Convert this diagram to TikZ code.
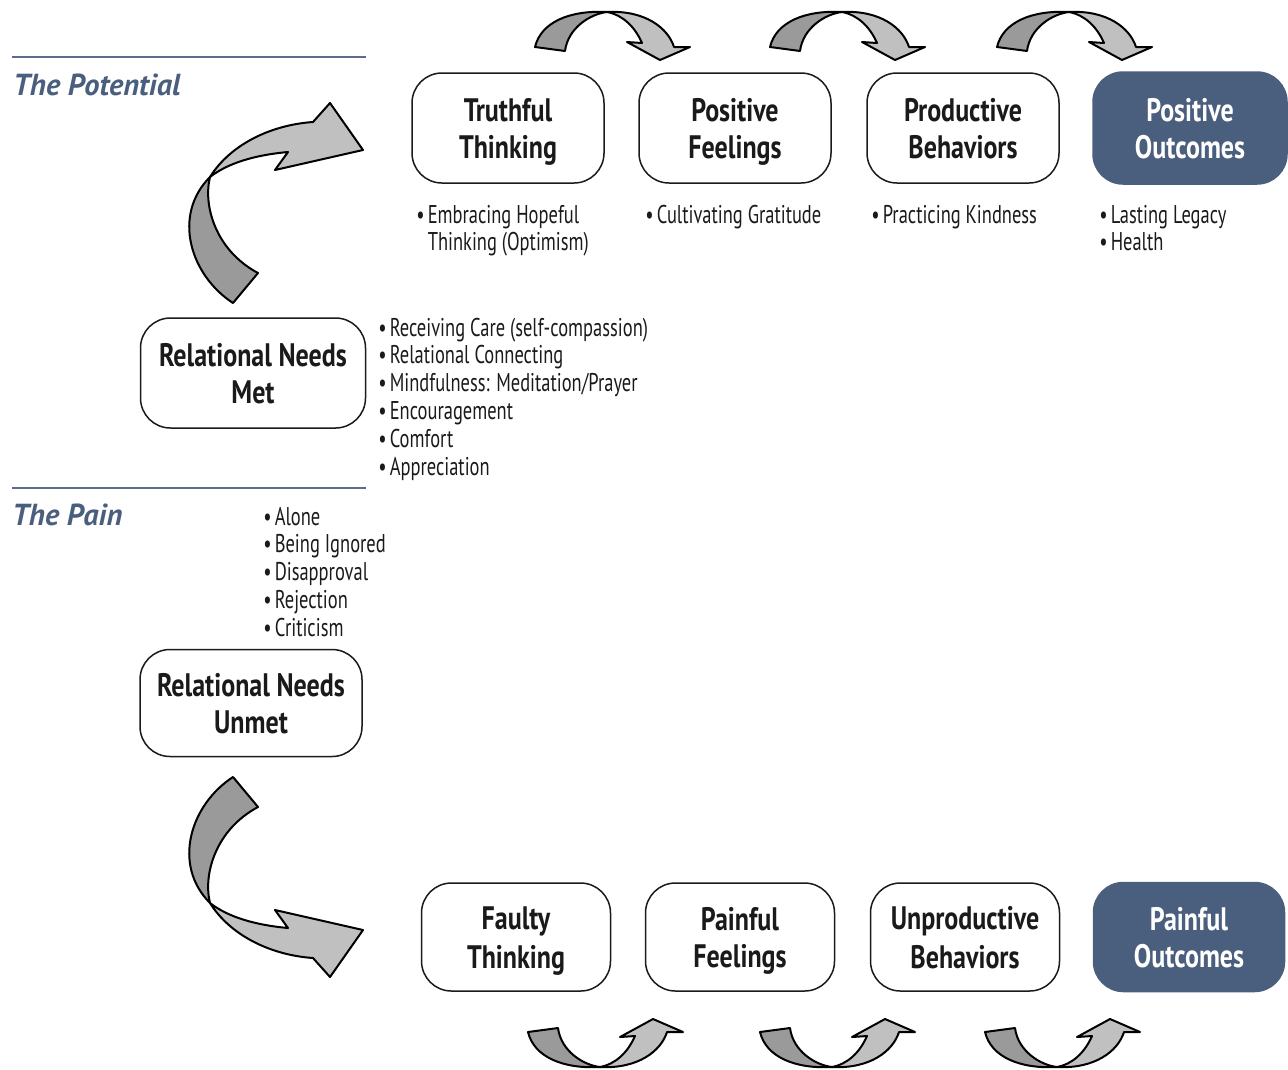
\documentclass[tikz,border=0pt]{standalone}
\usepackage{fontspec}
\setmainfont{PT Sans}[FakeStretch=0.8]
\newfontfamily\listfont{PT Sans}[FakeStretch=0.72]
\newfontfamily\titlefont{PT Sans}
\usetikzlibrary{positioning}

\definecolor{slate}{HTML}{4A5E7E}
\definecolor{rule}{HTML}{5A6D8C}
\definecolor{ink}{HTML}{1A1A1A}
\definecolor{arrowdark}{HTML}{9A9A9A}
\definecolor{arrowlight}{HTML}{C0C0C0}

\newcommand{\bul}{\textbullet\hspace{0.12em}}
\newcommand{\hang}{\hphantom{\bul}}
\newcommand{\lstrut}{\rule[-3.6pt]{0pt}{21pt}}
\newcommand{\twolines}[2]{\lstrut#1\\\lstrut#2}

\tikzset{
  arrow dark/.style={fill=arrowdark, draw=black, line width=0.4mm, line join=round},
  arrow light/.style={fill=arrowlight, draw=black, line width=0.4mm, line join=round},
  % small hop arrow between two boxes
  hop/.pic={
    \filldraw[arrow dark] (0,47) .. controls (6,22) and (35,10) .. (72,12)
      .. controls (55,14) and (33,28) .. (30,51) -- cycle;
    \filldraw[arrow light] (72,12) .. controls (110,10) and (133,28) .. (139,47)
      -- (155,47) -- (125,60) -- (92,42) -- (107,43)
      .. controls (100,27) and (88,15) .. (72,12) -- cycle;
  },
  % big bent arrow on the left
  bend/.pic={
    \filldraw[arrow dark] (53,203) .. controls (10,175) and (-8,115) .. (30,77)
      .. controls (23,105) and (35,150) .. (78,173) -- cycle;
    \filldraw[arrow light] (30,77) .. controls (50,45) and (90,25) .. (133,22)
      -- (150,3) -- (183,50) -- (95,70) -- (108,52)
      .. controls (75,55) and (48,63) .. (30,77) -- cycle;
  }
}

\begin{document}
\begin{tikzpicture}[
  x=0.2mm, y=-0.2mm,
  stage/.style={draw=ink, line width=0.3mm, rounded corners=6mm,
    minimum width=38.4mm, minimum height=22mm, inner sep=0pt,
    align=center, text=ink, font=\bfseries\fontsize{18.5}{21}\selectfont},
  outcome/.style={stage, fill=slate, draw=slate, text=white},
  need/.style={stage, minimum width=45mm},
  list/.style={anchor=base west, inner sep=0pt, text=ink,
    font=\listfont\fontsize{14.6}{15.9}\selectfont},
  heading/.style={anchor=base west, inner sep=0pt, text=slate,
    font=\titlefont\bfseries\itshape\fontsize{17.3}{20}\selectfont},
  divider/.style={draw=rule, line width=0.25mm}
]
  \useasboundingbox (0,0) rectangle (1288,1069);

  % Section headings and rules
  \draw[divider] (12,57) -- (366,57);
  \draw[divider] (12,488) -- (366,488);
  \node[heading] (potential) at (13,95) {The Potential};
  \node[heading] (pain) at (12,525) {The Pain};

  % Upper row
  \node[stage] (truth) at (508,128) {\twolines{Truthful}{Thinking}};
  \node[stage] (posfeel) at (735,128) {\twolines{Positive}{Feelings}};
  \node[stage] (prodbeh) at (963,128) {\twolines{Productive}{Behaviors}};
  \node[outcome, minimum width=38.8mm, minimum height=22.4mm] (posout) at (1190,128) {\twolines{Positive}{Outcomes}};

  % Needs
  \node[need] (needsmet) at (253,373) {\twolines{Relational Needs}{Met}};
  \node[need, minimum width=44.4mm, minimum height=21.4mm] (needsunmet) at (251,703) {\twolines{Relational Needs}{Unmet}};

  % Lower row
  \node[stage, minimum width=37.8mm, minimum height=21.6mm] (faulty) at (516,937) {\twolines{Faulty}{Thinking}};
  \node[stage, minimum width=37.8mm, minimum height=21.6mm] (painfeel) at (740,937) {\twolines{Painful}{Feelings}};
  \node[stage, minimum width=37.8mm, minimum height=21.6mm] (unprodbeh) at (965,937) {\twolines{Unproductive}{Behaviors}};
  \node[outcome, minimum width=38.2mm, minimum height=21.8mm] (painout) at (1189,937) {\twolines{Painful}{Outcomes}};

  % Bullet lists
  \node[list] (truthlist) at (416,223) {\begin{tabular}[t]{@{}l@{}}
    \bul Embracing Hopeful\\ \hang Thinking (Optimism)\end{tabular}};
  \node[list] (feellist) at (645,223) {\begin{tabular}[t]{@{}l@{}}
    \bul Cultivating Gratitude\end{tabular}};
  \node[list] (behlist) at (871,223) {\begin{tabular}[t]{@{}l@{}}
    \bul Practicing Kindness\end{tabular}};
  \node[list] (outlist) at (1099,223) {\begin{tabular}[t]{@{}l@{}}
    \bul Lasting Legacy\\ \bul Health\end{tabular}};
  \node[list] (metlist) at (378,336) {\begin{tabular}[t]{@{}l@{}}
    \bul Receiving Care (self-compassion)\\
    \bul Relational Connecting\\
    \bul Mindfulness: Meditation/Prayer\\
    \bul Encouragement\\
    \bul Comfort\\
    \bul Appreciation\end{tabular}};
  \node[list] (painlist) at (263,525) {\begin{tabular}[t]{@{}l@{}}
    \bul Alone\\
    \bul Being Ignored\\
    \bul Disapproval\\
    \bul Rejection\\
    \bul Criticism\end{tabular}};

  % Hop arrows over the upper row
  \foreach \x in {535,770,997}
    \pic at (\x,0) {hop};

  % Hop arrows under the lower row
  \foreach \x in {528,760,985}
    \pic[yscale=-1] at (\x,1079) {hop};

  % Bent arrows on the left
  \pic at (180,100) {bend};
  \pic[yscale=-1] at (180,980) {bend};

\end{tikzpicture}
\end{document}
